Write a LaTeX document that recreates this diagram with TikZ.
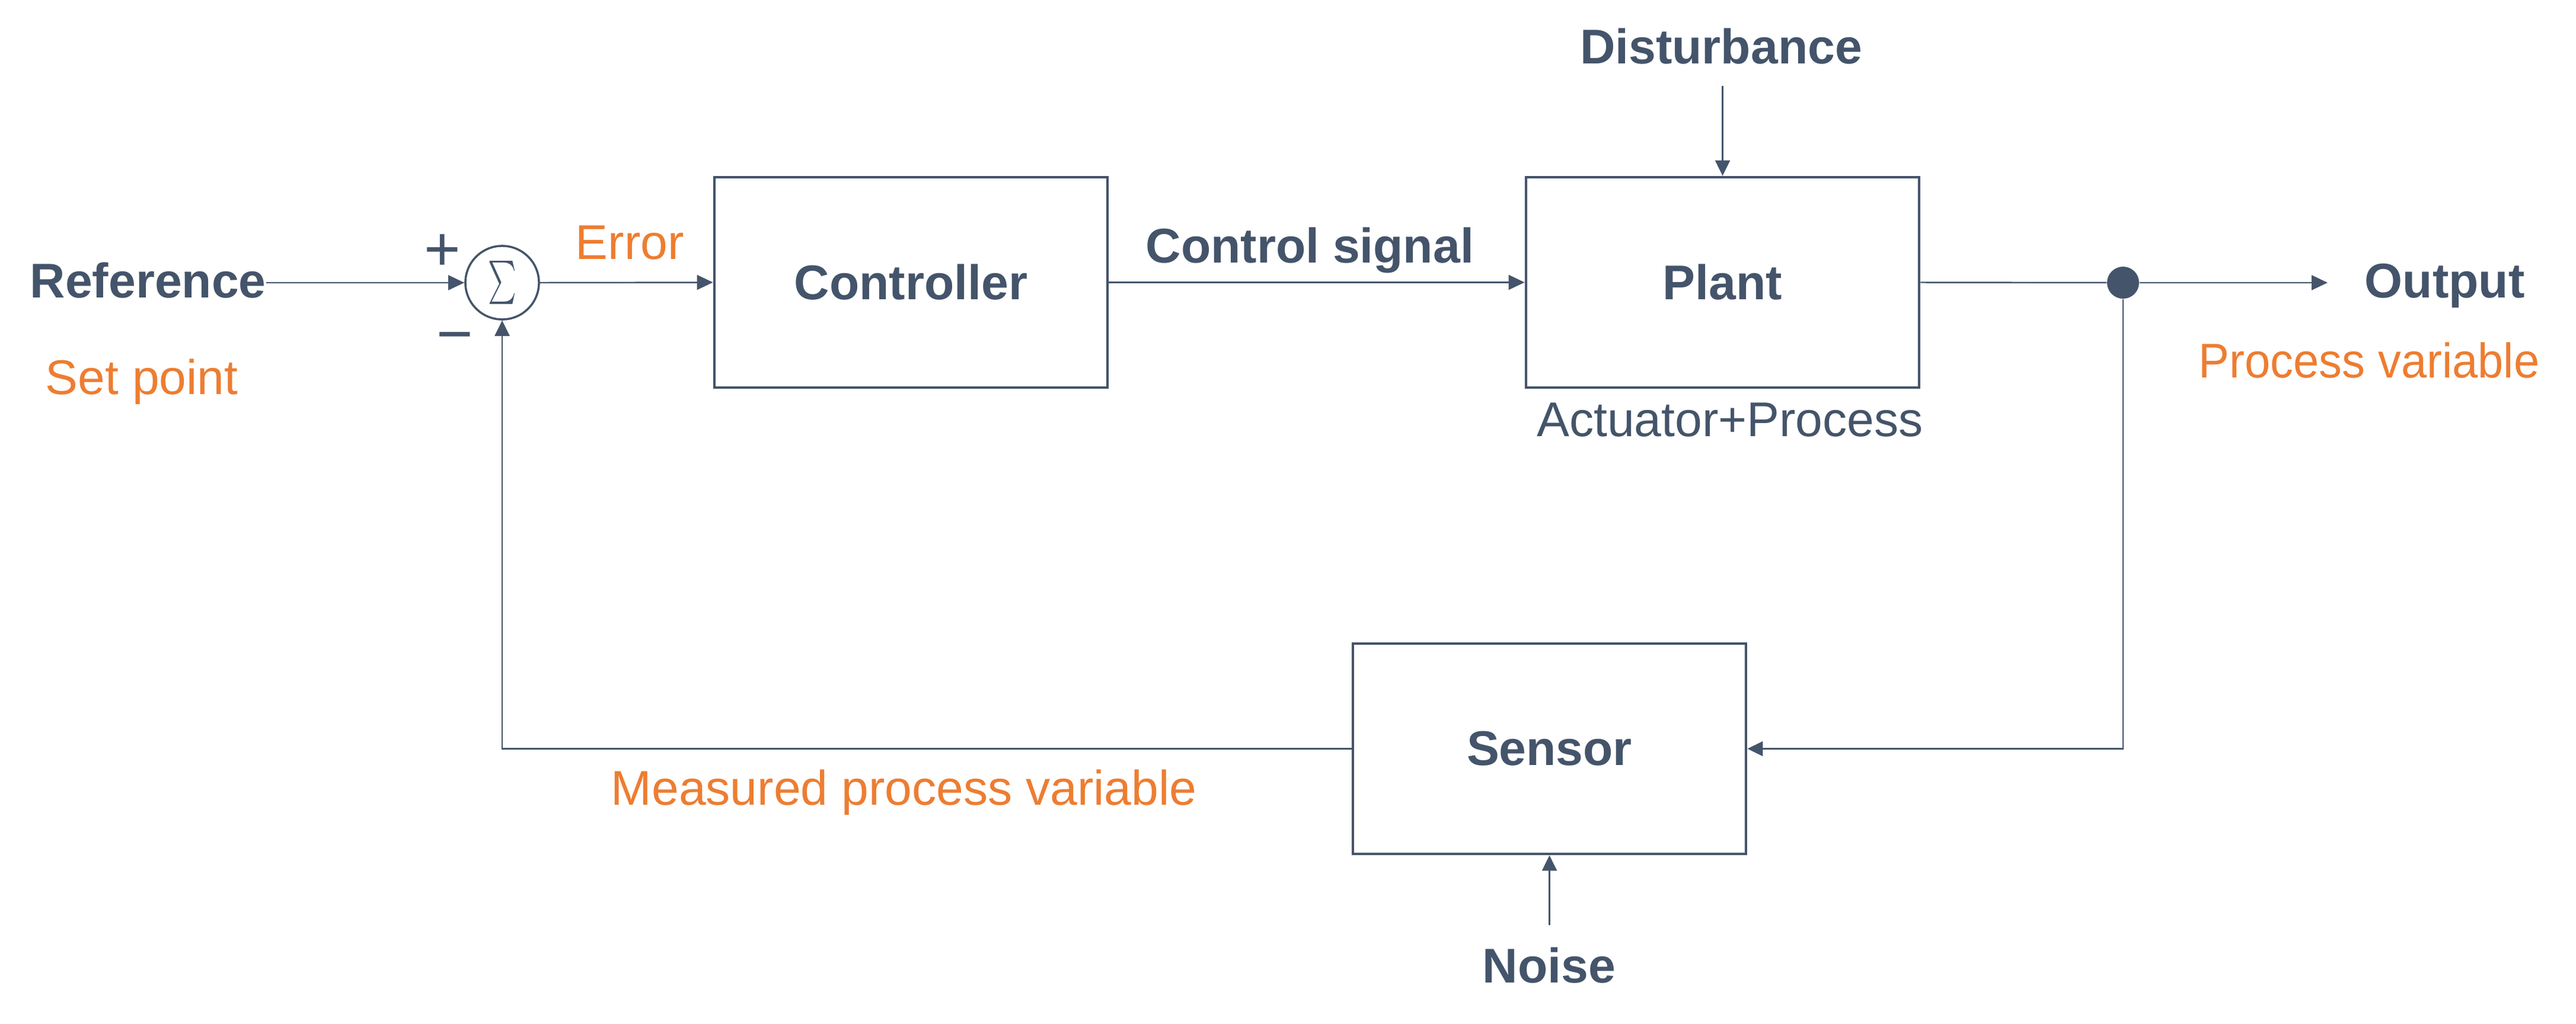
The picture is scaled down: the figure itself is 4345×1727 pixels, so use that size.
\documentclass[tikz,border=0pt]{standalone}
\usepackage{fontspec}
\usepackage{graphicx}
\usepackage{exscale}
\setmainfont{Liberation Sans}
\usetikzlibrary{arrows.meta}
\definecolor{dk}{HTML}{44546A}
\definecolor{org}{HTML}{ED7D31}
\begin{document}
\begin{tikzpicture}[x=0.01cm,y=-0.01cm,
  blk/.style={draw=dk, line width=1.28pt, minimum width=6.63cm, minimum height=3.55cm, inner sep=0pt, font=\fontsize{23.4}{28}\selectfont\bfseries, text=dk},
  lbl/.style={inner sep=0pt, font=\fontsize{23.4}{28}\selectfont, text=dk},
  bl/.style={inner sep=0pt, font=\fontsize{23.4}{28}\selectfont\bfseries, text=dk},
  ol/.style={inner sep=0pt, font=\fontsize{23.4}{28}\selectfont, text=org},
  sg/.style={inner sep=0pt, font=\fontsize{30}{36}\selectfont, text=dk},
  conn/.style={draw=dk, line width=0.7pt, -{Triangle[length=0.27cm,width=0.25cm]}},
  plainln/.style={draw=dk, line width=0.7pt},
  fb/.style={draw=dk, line width=0.6pt, -{Triangle[length=0.26cm,width=0.25cm]}},
]
\useasboundingbox (0,0) rectangle (4345,1727);
% blocks
\node[blk] (ctrl) at (1536.5,476.5) {Controller};
\node[blk] (plant) at (2905.5,476.5) {Plant};
\node[blk] (sens) at (2613.5,1263.5) {Sensor};
\node[circle, draw=dk, line width=1pt, minimum size=1.24cm, inner sep=0pt, text=dk] (sum) at (847,477)
  {\fontsize{20}{24}\selectfont\scalebox{0.62}[1]{$\textstyle\sum$}};
\node[circle, fill=dk, minimum size=0.54cm, inner sep=0pt] (dot) at (3581,477) {};
% labels
\node[bl, anchor=base west] (ref) at (50,502) {Reference};
\node[ol, anchor=base west] (setp) at (76,665) {Set point};
\node[ol, anchor=base west] (err) at (970,437) {Error};
\node[sg] (plus) at (746,426) {+};
\node[sg] (minus) at (767,580) {−};
\node[bl, anchor=base west] (csig) at (1932,443) {Control signal};
\node[bl, anchor=base] (dist) at (2903,107) {Disturbance};
\node[lbl, anchor=base] (act) at (2918,736) {Actuator+Process};
\node[bl, anchor=base west] (out) at (3988,502) {Output};
\node[ol, anchor=base west] (pv) at (3708,637) {\scalebox{0.945}[1]{Process variable}};
\node[ol, anchor=base west] (mpv) at (1030,1358) {Measured process variable};
\node[bl, anchor=base] (noise) at (2613,1658) {Noise};
% free ends
\coordinate (outtip) at (3926,477);
\coordinate (dstart) at (2905.5,145);
\coordinate (nstart) at (2613.5,1561);
% connectors
\draw[conn] (ref.east |- sum.west) -- (sum.west);
\draw[conn] (sum.east) -- (ctrl.west);
\draw[conn] (ctrl.east) -- (plant.west);
\draw[plainln] (plant.east) -- (dot);
\draw[conn] (dot) -- (outtip);
\draw[fb] (dot) |- (sens.east);
\draw[fb] (sens.west) -| (sum.south);
\draw[fb] (dstart) -- (plant.north);
\draw[fb] (nstart) -- (sens.south);
\end{tikzpicture}
\end{document}
